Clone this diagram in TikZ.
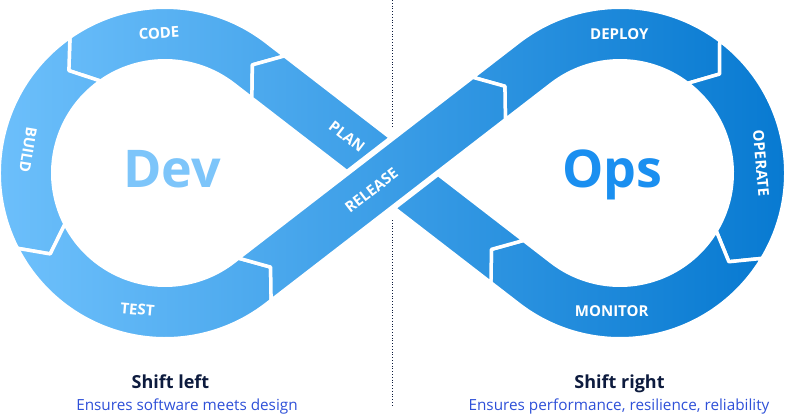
\documentclass[tikz,border=0pt]{standalone}
\usepackage{fontspec}
\setmainfont{Open Sans}
\usetikzlibrary{calc}
\definecolor{devc}{HTML}{6FC1FC}
\definecolor{opsc}{HTML}{0578D0}
\definecolor{devtxt}{HTML}{7DC5FA}
\definecolor{opstxt}{HTML}{1A8FF0}
\definecolor{ink}{HTML}{0D1B3E}
\definecolor{subc}{HTML}{2E50D8}
\tikzset{
  seg/.style={draw=white, line width=3.5pt, line join=round,
              path picture={\shade[left color=devc, right color=opsc] (-392.5,-243) rectangle (393.5,173);}},
  gap/.style={white, line width=8pt},
  lbl/.style={text=white, font=\bfseries\fontsize{15}{15}\selectfont, inner sep=0pt},
  big/.style={font=\bfseries\fontsize{52}{52}\selectfont, inner sep=0pt, anchor=base},
  ttl/.style={text=ink, font=\bfseries\fontsize{18}{18}\selectfont, inner sep=0pt, anchor=base},
  sub/.style={text=subc, font=\fontsize{15.3}{15.3}\selectfont, inner sep=0pt, anchor=base},
  divider/.style={ink, line width=0.8pt, dotted},
}

\begin{document}
\begin{tikzpicture}[x=1pt, y=1pt]
\useasboundingbox (-392.5,-243) rectangle (393.5,173);
\def\hw{26.75}
\def\Ro{165.75}
\def\Ri{112.25}
\coordinate (C1) at (-227.5,0);
\coordinate (C2) at (227.5,0);

% divider, broken where the bands cross
\coordinate (dtop) at (0,173);
\coordinate (dstop) at (0,45);
\coordinate (dgo) at (0,-47);
\coordinate (dbot) at (0,-234);
\draw[divider] (dtop) -- (dstop);
\draw[divider] (dgo) -- (dbot);

% corners of the two straight strips
\begin{scope}[rotate=142.34]
  \coordinate (pmO) at (-145,\hw);
  \coordinate (pmI) at (-145,-\hw);
  \coordinate (pmT) at (-125,0);
  \coordinate (pcO) at (157,-\hw);
  \coordinate (pcI) at (157,\hw);
  \coordinate (pcT) at (177,0);
\end{scope}
\begin{scope}[rotate=37.66]
  \coordinate (rtO) at (-174,-\hw);
  \coordinate (rtI) at (-174,\hw);
  \coordinate (rtT) at (-154,0);
  \coordinate (rdO) at (122,\hw);
  \coordinate (rdI) at (122,-\hw);
  \coordinate (rdT) at (142,0);
  \coordinate (gA1) at (-70,\hw);
  \coordinate (gA2) at (70,\hw);
  \coordinate (gB1) at (-70,-\hw);
  \coordinate (gB2) at (70,-\hw);
\end{scope}

% tips on the loops
\coordinate (cbT) at ($(C1)+(125:139)+(215:20)$);
\coordinate (btT) at ($(C1)+(207:139)+(297:20)$);
\coordinate (doT) at ($(C2)+(53:139)+(-37:20)$);
\coordinate (omT) at ($(C2)+(-31:139)+(-121:20)$);

% dev loop
\path[seg] (pcO) -- ($(C1)+(52.34:\Ro)$) arc[start angle=52.34, end angle=125, radius=\Ro]
  -- (cbT) -- ($(C1)+(125:\Ri)$) arc[start angle=125, end angle=52.34, radius=\Ri]
  -- (pcI) -- (pcT) -- cycle;
\path[seg] ($(C1)+(125:\Ro)$) arc[start angle=125, end angle=207, radius=\Ro]
  -- (btT) -- ($(C1)+(207:\Ri)$) arc[start angle=207, end angle=125, radius=\Ri]
  -- (cbT) -- cycle;
\path[seg] ($(C1)+(207:\Ro)$) arc[start angle=207, end angle=307.66, radius=\Ro]
  -- (rtO) -- (rtT) -- (rtI) -- ($(C1)+(307.66:\Ri)$) arc[start angle=307.66, end angle=207, radius=\Ri]
  -- (btT) -- cycle;

% ops loop
\path[seg] (rdO) -- ($(C2)+(127.66:\Ro)$) arc[start angle=127.66, end angle=53, radius=\Ro]
  -- (doT) -- ($(C2)+(53:\Ri)$) arc[start angle=53, end angle=127.66, radius=\Ri]
  -- (rdI) -- (rdT) -- cycle;
\path[seg] ($(C2)+(53:\Ro)$) arc[start angle=53, end angle=-31, radius=\Ro]
  -- (omT) -- ($(C2)+(-31:\Ri)$) arc[start angle=-31, end angle=53, radius=\Ri]
  -- (doT) -- cycle;
\path[seg] ($(C2)+(-31:\Ro)$) arc[start angle=-31, end angle=-127.66, radius=\Ro]
  -- (pmO) -- (pmT) -- (pmI) -- ($(C2)+(-127.66:\Ri)$) arc[start angle=-127.66, end angle=-31, radius=\Ri]
  -- (omT) -- cycle;

% plan runs under release
\path[seg] (pmO) -- (pmT) -- (pmI) -- (pcO) -- (pcT) -- (pcI) -- cycle;
\draw[gap] (gA1) -- (gA2);
\draw[gap] (gB1) -- (gB2);
\path[seg] (rtO) -- (rdI) -- (rdT) -- (rdO) -- (rtI) -- (rtT) -- cycle;

% stage labels
\node[lbl, rotate=3.5] (code) at (-233.5,140) {CODE};
\node[lbl, rotate=-99.5] (build) at (-364.5,23) {BUILD};
\node[lbl, rotate=-5] (test) at (-255,-136.5) {TEST};
\node[lbl, rotate=-37.66] (plan) at (-45.5,36.5) {PLAN};
\node[lbl, rotate=37.66] (release) at (-21,-17.5) {RELEASE};
\node[lbl] (deploy) at (226.8,138.7) {DEPLOY};
\node[lbl, rotate=-85] (operate) at (368.5,10) {OPERATE};
\node[lbl] (monitor) at (219.2,-137.7) {MONITOR};

\node[big, text=devtxt] (dev) at (-220.5,-14) {Dev};
\node[big, text=opstxt] (ops) at (220,-14) {Ops};

% captions
\node[ttl] (sleft) at (-222,-215) {Shift left};
\node[sub] (dleft) at (-205.5,-237) {Ensures software meets design};
\node[ttl] (sright) at (227,-215) {Shift right};
\node[sub] (dright) at (226.5,-237) {Ensures performance, resilience, reliability};
\end{tikzpicture}
\end{document}
